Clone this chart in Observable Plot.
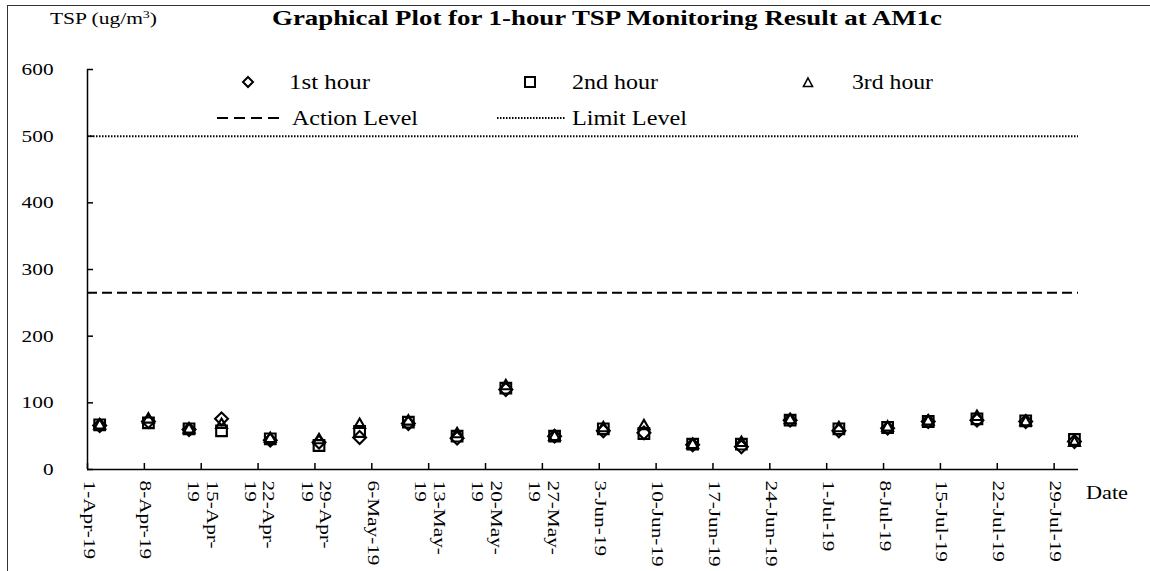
<!DOCTYPE html>
<html><head><meta charset="utf-8">
<script src="https://cdn.jsdelivr.net/npm/d3@7"></script>
<script src="https://cdn.jsdelivr.net/npm/@observablehq/plot@0.6"></script>
<style>
body{margin:0;background:#fff;}
#wrap{position:relative;width:1150px;height:571px;overflow:hidden;font-family:"Liberation Serif","Times New Roman",serif;background:#fff;}
#frame{position:absolute;left:7px;top:5px;width:1300px;height:700px;border-left:1px solid #333;border-top:1px solid #333;}
#plot,#over{position:absolute;left:0;top:0;}
</style></head><body>
<div id="wrap"><div id="frame"></div><div id="plot"></div><svg id="over" width="1150" height="571"></svg></div>
<script>
// ---- data ----
const dates = ["2019-04-02","2019-04-08","2019-04-13","2019-04-17","2019-04-23","2019-04-29","2019-05-04","2019-05-10","2019-05-16","2019-05-22","2019-05-28","2019-06-03","2019-06-08","2019-06-14","2019-06-20","2019-06-26","2019-07-02","2019-07-08","2019-07-13","2019-07-19","2019-07-25","2019-07-31"];
const hour1 = [66, 72, 60, 76, 44, 41, 48, 69, 47, 120, 50, 58, 55, 37, 34, 74, 58, 62, 72, 74, 72, 42];
const hour2 = [67, 70, 61, 58, 46, 36, 57, 71, 50, 122, 50, 61, 54, 38, 38, 74, 61, 63, 72, 76, 73, 45];
const hour3 = [66, 75, 60, 67, 46, 44, 67, 72, 53, 125, 49, 62, 65, 37, 40, 74, 62, 63, 72, 79, 71, 40];
const actionLevel = 265;
const limitLevel = 500;
const xTickDates = ["2019-04-01","2019-04-08","2019-04-15","2019-04-22","2019-04-29","2019-05-06","2019-05-13","2019-05-20","2019-05-27","2019-06-03","2019-06-10","2019-06-17","2019-06-24","2019-07-01","2019-07-08","2019-07-15","2019-07-22","2019-07-29"];
const xTickLabels = ["1-Apr-19","8-Apr-19","15-Apr-\n19","22-Apr-\n19","29-Apr-\n19","6-May-19","13-May-\n19","20-May-\n19","27-May-\n19","3-Jun-19","10-Jun-19","17-Jun-19","24-Jun-19","1-Jul-19","8-Jul-19","15-Jul-19","22-Jul-19","29-Jul-19"];
const yTicks = [0, 100, 200, 300, 400, 500, 600];
const xDomain = ["2019-04-01", "2019-08-01"];

// ---- chart ----
const W = 1150, H = 571, mL = 87, mR = 72, mT = 69, mB = 102;
const plotW = W - mL - mR, plotH = H - mT - mB;
const parse = s => new Date(s + "T00:00:00Z");
const rows = dates.map((d, i) => ({date: parse(d), h1: hour1[i], h2: hour2[i], h3: hour3[i]}));
const mid = d => new Date(+d.date + 12 * 3600e3); // centre of the day slot
const tickDates = xTickDates.map(parse);
const labelMap = new Map(tickDates.map((d, i) => [+d, xTickLabels[i]]));
const dotStyle = {stroke: "black", strokeWidth: 2.1, fill: "none"};

const chart = Plot.plot({
  width: W, height: H,
  marginLeft: mL, marginRight: mR, marginTop: mT, marginBottom: mB,
  style: {fontFamily: "'Liberation Serif', 'Times New Roman', serif", fontSize: "17px", color: "black", background: "transparent", overflow: "visible"},
  x: {type: "utc", domain: xDomain.map(parse)},
  y: {domain: [0, 600]},
  marks: [
    Plot.ruleY([limitLevel], {stroke: "black", strokeWidth: 2, strokeDasharray: "1.5,1.5"}),
    Plot.ruleY([actionLevel], {stroke: "black", strokeWidth: 2, strokeDasharray: "10,5"}),
    Plot.ruleY([0], {stroke: "black", strokeWidth: 1.5}),
    Plot.ruleX([parse(xDomain[0])], {stroke: "black", strokeWidth: 1.5}),
    Plot.tickY(yTicks, {y: d => d, stroke: "black", strokeWidth: 1.5, insetRight: plotW - 6}),
    Plot.tickX(tickDates, {x: d => d, stroke: "black", strokeWidth: 1.5, insetTop: plotH - 6}),
    Plot.axisY({ticks: yTicks, tickSize: 0, tickPadding: 34, label: null, fontSize: 17}),
    Plot.axisX({ticks: tickDates, tickFormat: d => labelMap.get(+d), tickSize: 0, tickRotate: 90, tickPadding: 11, label: null, fontSize: 17, lineHeight: 1.1, dx: 2}),
    Plot.dot(rows, {x: mid, y: "h1", symbol: "diamond2", r: 5.8, ...dotStyle}),
    Plot.dot(rows, {x: mid, y: "h2", symbol: "square2", r: 6.8, ...dotStyle}),
    Plot.dot(rows, {x: mid, y: "h3", symbol: "triangle2", r: 5.2, ...dotStyle})
  ]
});
document.getElementById("plot").appendChild(chart);

// widen axis text like the reference (stretched glyphs)
const K = 1.25;
chart.querySelectorAll("text").forEach(t => {
  const spans = t.querySelectorAll("tspan");
  const els = spans.length ? Array.from(spans) : [t];
  els.forEach(e => {
    const L = e.getComputedTextLength();
    if (L > 0) { e.setAttribute("textLength", (L * K).toFixed(1)); e.setAttribute("lengthAdjust", "spacingAndGlyphs"); }
  });
});

// ---- titles and legend ----
const over = d3.select("#over").style("font-family", "'Liberation Serif', 'Times New Roman', serif");
function txt(x, y, s, size, len, bold) {
  return over.append("text").attr("x", x).attr("y", y).attr("font-size", size)
    .attr("font-weight", bold ? "bold" : null).attr("textLength", len)
    .attr("lengthAdjust", "spacingAndGlyphs").attr("fill", "black").text(s);
}
txt(272, 25, "Graphical Plot for 1-hour TSP Monitoring Result at AM1c", 22, 670, true);
const ylab = over.append("text").attr("x", 50).attr("y", 24).attr("font-size", 17)
  .attr("textLength", 107).attr("lengthAdjust", "spacingAndGlyphs");
ylab.append("tspan").text("TSP (ug/m");
ylab.append("tspan").attr("font-size", 11).attr("dy", -6).text("3");
ylab.append("tspan").attr("dy", 6).text(")");
txt(1086, 499, "Date", 18, 42);

const legendItems = [
  {label: "1st hour", sym: "diamond", sx: 248, sy: 82, tx: 289, ty: 89, len: 81},
  {label: "2nd hour", sym: "square", sx: 530, sy: 82, tx: 572, ty: 89, len: 86},
  {label: "3rd hour", sym: "triangle", sx: 808, sy: 83, tx: 852, ty: 89, len: 81},
  {label: "Action Level", sym: "dash", sx: 217, sy: 118, tx: 292, ty: 125, len: 126},
  {label: "Limit Level", sym: "dot", sx: 497, sy: 118, tx: 572, ty: 125, len: 115}
];
legendItems.forEach(it => {
  const g = over.append("g").attr("fill", "none").attr("stroke", "black").attr("stroke-width", 2);
  if (it.sym === "diamond") g.append("path").attr("d", `M${it.sx},${it.sy-5}L${it.sx+5},${it.sy}L${it.sx},${it.sy+5}L${it.sx-5},${it.sy}Z`);
  if (it.sym === "square") g.append("rect").attr("x", it.sx - 5).attr("y", it.sy - 5).attr("width", 10).attr("height", 10);
  if (it.sym === "triangle") g.append("path").attr("d", `M${it.sx},${it.sy-5}L${it.sx+4.5},${it.sy+3.5}L${it.sx-4.5},${it.sy+3.5}Z`).attr("stroke-width", 1.6);
  if (it.sym === "dash") g.append("line").attr("x1", it.sx).attr("x2", it.sx + 64).attr("y1", it.sy).attr("y2", it.sy).attr("stroke-dasharray", "11,6");
  if (it.sym === "dot") g.append("line").attr("x1", it.sx).attr("x2", it.sx + 68).attr("y1", it.sy).attr("y2", it.sy).attr("stroke-dasharray", "1.5,1.5");
  txt(it.tx, it.ty, it.label, 21, it.len);
});
</script>
</body></html>
